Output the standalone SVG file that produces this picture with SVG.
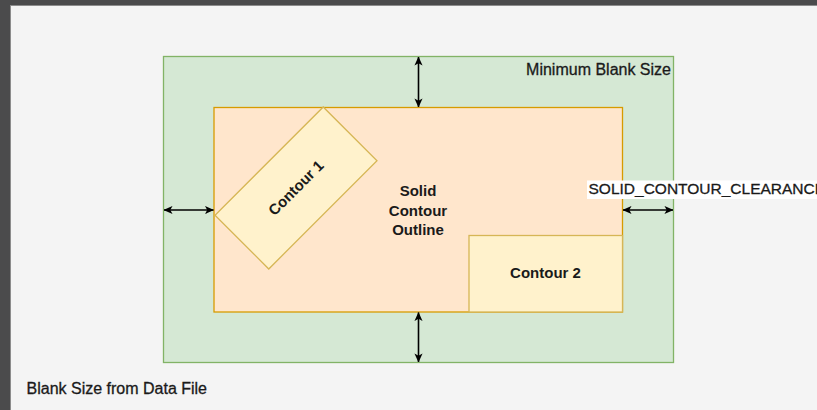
<svg xmlns="http://www.w3.org/2000/svg" width="817" height="410" viewBox="0 0 817 410">
<defs>
<marker id="ah" viewBox="0 0 10 10" refX="9.5" refY="5" markerWidth="9" markerHeight="9" orient="auto-start-reverse" markerUnits="userSpaceOnUse">
<path d="M0,0.5 L10,5 L0,9.5 L2.5,5 Z" fill="#000"/>
</marker>
<style>
.lbl{font-family:"Liberation Sans",Arial,sans-serif;font-size:16px;fill:#1a1a1a;stroke:#1a1a1a;stroke-width:0.3}
.b{font-weight:bold;font-size:15px;text-anchor:middle;stroke-width:0}
.conn{stroke:#000;stroke-width:1.6;fill:none;marker-start:url(#ah);marker-end:url(#ah)}
</style>
</defs>
<rect x="0" y="0" width="817" height="410" fill="#4b4b4c"/>
<rect x="10" y="5" width="807" height="405" fill="#8c8c8c"/>
<rect x="11" y="6" width="806" height="404" fill="#f4f4f4"/>
<g id="blank">
<rect x="163.5" y="56.5" width="510" height="306" fill="#d5e8d4" stroke="#82b366" stroke-width="1.3"/>
<text class="lbl" x="671" y="74.5" text-anchor="end">Minimum Blank Size</text>
</g>
<g id="outline">
<rect x="214" y="107.5" width="408.5" height="204.5" fill="#ffe6cc" stroke="#d79b00" stroke-width="1.3"/>
<text class="lbl b" x="418" y="196">Solid</text>
<text class="lbl b" x="418" y="215.5">Contour</text>
<text class="lbl b" x="418" y="235">Outline</text>
</g>
<g id="contour1" transform="translate(296,188) rotate(-45)">
<rect x="-76.5" y="-38" width="153" height="76" fill="#fff2cc" stroke="#d6b656" stroke-width="1.3"/>
<text class="lbl b" x="0" y="5">Contour 1</text>
</g>
<g id="contour2">
<rect x="469" y="235.5" width="153.5" height="76.5" fill="#fff2cc" stroke="#d6b656" stroke-width="1.3"/>
<text class="lbl b" x="545.5" y="278">Contour 2</text>
</g>
<g id="connectors">
<line class="conn" x1="418.5" y1="57" x2="418.5" y2="107"/>
<line class="conn" x1="418.5" y1="312.5" x2="418.5" y2="362"/>
<line class="conn" x1="164" y1="210" x2="213.5" y2="210"/>
<line class="conn" x1="623" y1="210" x2="673" y2="210"/>
</g>
<g id="clearance">
<rect x="587" y="180.5" width="240" height="18.5" fill="#ffffff"/>
<text class="lbl" x="588.5" y="194" style="font-size:15.5px">SOLID_CONTOUR_CLEARANCE</text>
</g>
<g id="datafile">
<text class="lbl" x="26.5" y="394">Blank Size from Data File</text>
</g>
</svg>
